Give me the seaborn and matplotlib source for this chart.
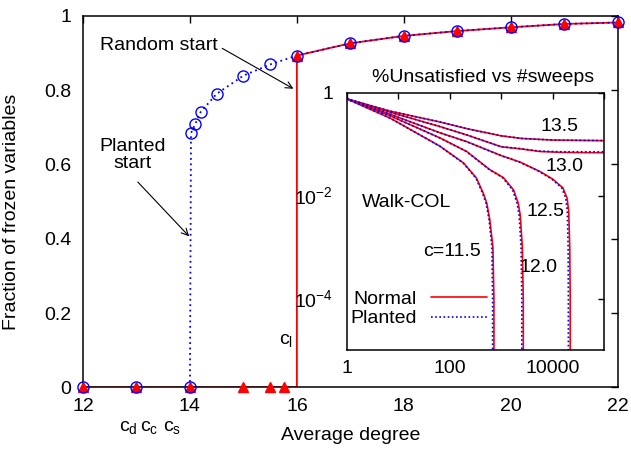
import matplotlib
matplotlib.use("Agg")
import pandas as pd
import matplotlib.pyplot as plt
import seaborn as sns
from matplotlib.lines import Line2D
from matplotlib.ticker import FixedLocator, FixedFormatter

# main panel: fraction of frozen variables vs average degree
planted_c = [12, 13, 14, 14.02, 14.1, 14.2, 14.5, 15, 15.5, 16, 17, 18, 19, 20, 21, 22]
planted_frozen = [0, 0, 0, 0.684, 0.709, 0.741, 0.790, 0.839, 0.869, 0.893,
                  0.926, 0.946, 0.959, 0.969, 0.978, 0.982]
random_c = [12, 13, 14, 15, 15.5, 15.75, 16, 16, 17, 18, 19, 20, 21, 22]
random_frozen = [0, 0, 0, 0, 0, 0, 0, 0.893, 0.926, 0.946, 0.959, 0.969, 0.978, 0.982]

# thresholds marked under the x axis
thr_pos = [12.84, 13.23, 13.67]
thr_labels = ["c$_\\mathrm{d}$", "c$_\\mathrm{c}$", "c$_\\mathrm{s}$"]

# inset: fraction of unsatisfied constraints vs sweeps (Walk-COL)
sweeps_115 = [1, 7, 65, 186, 330, 450, 525, 600, 690, 722, 725]
unsat_115 = [0.76, 0.32, 0.091, 0.043, 0.022, 0.011, 0.0071, 0.0034, 0.001, 1e-4, 1e-7]
planted_sweeps_115 = [1, 7, 64, 182, 322, 435, 508, 580, 660, 680, 682]

sweeps_120 = [1, 7, 65, 214, 600, 1100, 1740, 2140, 2340, 2570, 2680, 2690]
unsat_120 = [0.76, 0.355, 0.132, 0.072, 0.032, 0.0224, 0.0129, 0.0071, 0.0042, 0.001, 1e-4, 1e-7]
planted_sweeps_120 = [1, 7, 64, 210, 585, 1060, 1660, 2030, 2220, 2430, 2510, 2515]

sweeps_125 = [1, 7, 65, 214, 1000, 2340, 5620, 10000, 15800, 19000, 20400, 21400, 21850, 21900]
unsat_125 = [0.76, 0.38, 0.166, 0.112, 0.060, 0.0447, 0.0295, 0.0209, 0.0141, 0.0089,
             0.005, 0.001, 1e-4, 1e-7]
planted_sweeps_125 = [1, 7, 64, 210, 980, 2280, 5450, 9600, 15000, 17900, 19200, 19900, 20100, 20150]

sweeps_130 = [1, 7, 65, 214, 1000, 2340, 5620, 15800, 100000]
unsat_130 = [0.76, 0.417, 0.219, 0.151, 0.089, 0.081, 0.072, 0.069, 0.068]
planted_unsat_130 = [0.76, 0.417, 0.219, 0.151, 0.089, 0.082, 0.073, 0.071, 0.071]

sweeps_135 = [1, 7, 65, 214, 1000, 2500, 10000, 100000]
unsat_135 = [0.76, 0.437, 0.269, 0.200, 0.145, 0.129, 0.120, 0.117]

rows = []
for c, s, u, ps, pu in [
    ("11.5", sweeps_115, unsat_115, planted_sweeps_115, unsat_115),
    ("12.0", sweeps_120, unsat_120, planted_sweeps_120, unsat_120),
    ("12.5", sweeps_125, unsat_125, planted_sweeps_125, unsat_125),
    ("13.0", sweeps_130, unsat_130, sweeps_130, planted_unsat_130),
    ("13.5", sweeps_135, unsat_135, sweeps_135, unsat_135),
]:
    for a, b in zip(s, u):
        rows.append({"c": c, "start": "Normal", "sweeps": a, "unsat": b})
    for a, b in zip(ps, pu):
        rows.append({"c": c, "start": "Planted", "sweeps": a, "unsat": b})
walk = pd.DataFrame(rows)

sns.set_theme(style="white", rc={
    "axes.edgecolor": "black", "text.color": "black", "axes.labelcolor": "black",
    "xtick.color": "black", "ytick.color": "black", "axes.linewidth": 1.1,
})
plt.rcParams["font.family"] = ["Liberation Sans", "DejaVu Sans"]
plt.rcParams["mathtext.fontset"] = "custom"
plt.rcParams["mathtext.rm"] = "Liberation Sans"
plt.rcParams["mathtext.it"] = "Liberation Sans:italic"
plt.rcParams["mathtext.default"] = "regular"
FS = 14

fig = plt.figure(figsize=(6.31, 4.49), dpi=100)
ax = fig.add_axes([0.1315, 0.1374, 0.8475, 0.8274])

# lines (under the spines so the parts along y=0 are hidden)
sns.lineplot(x=random_c, y=random_frozen, sort=False, estimator=None, color="red",
             lw=1.3, ax=ax, zorder=2)
sns.lineplot(x=planted_c[2:], y=planted_frozen[2:], sort=False, estimator=None, color="blue",
             lw=1.3, linestyle=(0, (1, 2)), ax=ax, zorder=2)

# markers
marks = pd.DataFrame({"c": random_c, "f": random_frozen}).drop_duplicates("c", keep="last")
ax.plot(marks["c"], marks["f"], linestyle="none", marker="^", ms=7, color="red",
        mec="red", clip_on=False, zorder=4)
ax.plot(planted_c, planted_frozen, linestyle="none", marker="o", ms=8, mfc="none",
        mec="blue", mew=1.0, clip_on=False, zorder=5)

ax.set_xlim(12, 22)
ax.set_ylim(0, 1)
ax.set_xticks([12, 14, 16, 18, 20, 22])
ax.set_xticklabels(["12", "14", "16", "18", "20", "22"])
ax.set_yticks([0, 0.2, 0.4, 0.6, 0.8, 1])
ax.set_yticklabels(["0", "0.2", "0.4", "0.6", "0.8", "1"])
ax.xaxis.set_minor_locator(FixedLocator(thr_pos))
ax.xaxis.set_minor_formatter(FixedFormatter(thr_labels))
ax.tick_params(which="major", direction="in", length=5, width=1, top=True, right=True,
               labelsize=FS)
ax.tick_params(axis="x", which="major", pad=8)
ax.tick_params(axis="y", which="major", pad=8.5)
ax.tick_params(axis="x", which="minor", direction="out", length=18.7, width=0.8,
               top=False, labelsize=FS, pad=4)
ax.set_xlabel("Average degree", fontsize=FS)
ax.set_ylabel("Fraction of frozen variables", fontsize=FS)
ax.xaxis.set_label_coords(0.5, -0.106)
ax.yaxis.set_label_coords(-0.118, 0.473)

ax.annotate("", xy=(15.98, 0.80), xytext=(14.56, 0.916),
            arrowprops=dict(arrowstyle="->", color="black", lw=0.8,
                            mutation_scale=12))
ax.text(13.41, 0.9195, "Random start", fontsize=FS, ha="center", va="center")
ax.annotate("", xy=(14.02, 0.401), xytext=(12.99, 0.558),
            arrowprops=dict(arrowstyle="->", color="black", lw=0.8,
                            mutation_scale=12))
ax.text(12.935, 0.625, "Planted\nstart", fontsize=FS, ha="center", va="center",
        linespacing=0.95)
ax.text(15.79, 0.127, "c$_\\mathrm{l}$", fontsize=FS, ha="center", va="center")

# inset
ax_in = fig.add_axes([0.5494, 0.2205, 0.4082, 0.5731])
ax_in.set_facecolor("white")
sns.lineplot(data=walk, x="sweeps", y="unsat", hue="start", style="start", units="c",
             estimator=None, sort=False, palette={"Normal": "red", "Planted": "blue"},
             dashes={"Normal": "", "Planted": (1, 1.5)}, lw=1.2, legend=False, ax=ax_in)
ax_in.set_xscale("log")
ax_in.set_yscale("log")
ax_in.set_xlim(1, 1e5)
ax_in.set_ylim(1e-5, 1)
ax_in.xaxis.set_major_locator(FixedLocator([1, 10, 100, 1000, 1e4, 1e5]))
ax_in.xaxis.set_major_formatter(FixedFormatter(["1", "", "100", "", "10000", ""]))
ax_in.xaxis.set_minor_locator(FixedLocator([]))
ax_in.yaxis.set_major_locator(FixedLocator([1, 1e-2, 1e-4]))
ax_in.yaxis.set_major_formatter(FixedFormatter(["1", "$10^{-2}$", "$10^{-4}$"]))
ax_in.yaxis.set_minor_locator(FixedLocator([]))
ax_in.tick_params(which="major", direction="in", length=4.5, width=1, top=True, right=True,
                  labelsize=FS)
ax_in.tick_params(axis="x", pad=7.3)
ax_in.tick_params(axis="y", pad=9.8)
ax_in.set_xlabel("")
ax_in.set_ylabel("")
for sp in ax_in.spines.values():
    sp.set_linewidth(1.1)

ax_in.text(0.53, 1.06, "%Unsatisfied vs #sweeps", transform=ax_in.transAxes,
           fontsize=FS, ha="center", va="center")
ax_in.text(0.828, 0.868, "13.5", transform=ax_in.transAxes, fontsize=FS, ha="center", va="center")
ax_in.text(0.847, 0.715, "13.0", transform=ax_in.transAxes, fontsize=FS, ha="center", va="center")
ax_in.text(0.770, 0.537, "12.5", transform=ax_in.transAxes, fontsize=FS, ha="center", va="center")
ax_in.text(0.746, 0.319, "12.0", transform=ax_in.transAxes, fontsize=FS, ha="center", va="center")
ax_in.text(0.408, 0.382, "c=11.5", transform=ax_in.transAxes, fontsize=FS, ha="center", va="center")
ax_in.text(0.234, 0.572, "Walk-COL", transform=ax_in.transAxes, fontsize=FS, ha="center", va="center")

handles = [Line2D([], [], color="red", lw=1.2),
           Line2D([], [], color="blue", lw=1.2, linestyle=(0, (1, 1.5)))]
ax_in.legend(handles, ["Normal", "Planted"], loc="center", bbox_to_anchor=(0.279, 0.160),
             markerfirst=False, frameon=False, fontsize=FS, handlelength=2.9,
             handletextpad=0.72, labelspacing=0.1, borderpad=0, borderaxespad=0)

fig.savefig("out.png", dpi=100, facecolor="white")
